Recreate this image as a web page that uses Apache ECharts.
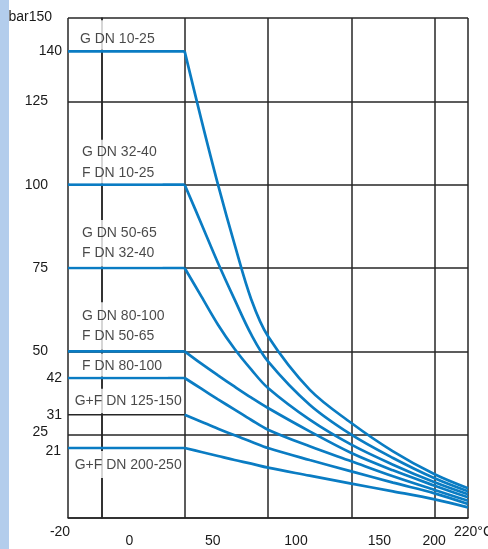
<!DOCTYPE html>
<html><head><meta charset="utf-8">
<script src="https://cdn.jsdelivr.net/npm/echarts@6/dist/echarts.min.js"></script>
<style>html,body{margin:0;padding:0;background:#fff}#c{width:488px;height:549px}</style>
</head><body><div id="c"></div>
<script>
// ---- data ----
const flatFrom = -20;
const temps = [50, 60, 70, 80, 90, 100, 125, 150, 175, 200, 220];
const p140 = [140, 119.5, 100, 82, 65.5, 54.5, 38.5, 28.5, 20, 13.1, 8.9];
const p100 = [100, 88.3, 76.5, 65.5, 55, 47, 34, 25, 18, 11.9, 8.0];
const p75  = [75, 66.5, 58, 50.7, 44.5, 39, 29.5, 22, 16, 10.7, 7.1];
const p50  = [50, 46.3, 42.8, 39.4, 36.1, 33, 26, 19.5, 14.3, 9.7, 6.2];
const p42  = [42, 38.8, 35.6, 32.5, 29.4, 26.5, 21.5, 17, 12.5, 8.4, 5.2];
const p31  = [31, 28.9, 26.8, 24.8, 22.9, 21, 17.4, 14, 10.6, 7.4, 4.2];
const p21  = [21, 19.8, 18.6, 17.4, 16.3, 15.1, 12.7, 10.3, 8, 5.6, 3.2];
const curves = [p140, p100, p75, p50, p42, p31, p21];
const blueFlat = [true, true, true, true, true, false, true];

const xTickValues = [-20, 0, 50, 100, 150, 200, 220];
const yGridValues = [0, 25, 50, 75, 100, 125, 150];
const yLabelValues = [21, 25, 31, 42, 50, 75, 100, 125, 140, 150];
const yNearLabels = [21, 31, 42, 140];

const groupTexts = ['G DN 10-25', 'G DN 32-40\nF DN 10-25', 'G DN 50-65\nF DN 32-40',
  'G DN 80-100\nF DN 50-65', 'F DN 80-100', 'G+F DN 125-150', 'G+F DN 200-250'];
const groupLevels = [140, 100, 75, 50, 42, 31, 21];

// ---- styles ----
const FONT = "'Liberation Sans',Arial,sans-serif";
const FS = 14;
const BLUE = '#0a7cc3';
const GRID = '#262626';
const TXT = '#1a1a1a';
const labelStyle = [
  {pos: 'top', pad: [9.5, 6, 2, 10.3], lh: 18, d: 1.5},
  {pos: 'top', pad: [1.5, 6, 0, 12.3], lh: 21, d: 1.5},
  {pos: 'top', pad: [2.75, 6, 2.75, 12.3], lh: 20.5, d: 1.5},
  {pos: 'top', pad: [3.25, 6, 3.25, 12.3], lh: 20.5, d: 1.5},
  {pos: 'top', pad: [3.5, 6, 1.5, 12.3], lh: 18, d: 1.5},
  {pos: 'top', pad: [3, 0, 3.5, 5], lh: 18, d: 1.5},
  {pos: 'bottom', pad: [5, 0, 4, 5], lh: 18, d: 3}
];

const series = [];
curves.forEach((vals, i) => {
  series.push({
    type: 'line', silent: true, symbol: 'none', animation: false,
    lineStyle: blueFlat[i] ? {color: BLUE, width: 2.7} : {color: GRID, width: 1.5},
    data: [[flatFrom, vals[0]], [temps[0], vals[0]]], z: blueFlat[i] ? 3 : 2
  });
  series.push({
    type: 'line', silent: true, symbol: 'none', animation: false, smooth: 0.35,
    lineStyle: {color: BLUE, width: 2.7},
    data: temps.map((t, k) => [t, vals[k]]), z: 3
  });
});
series.push({
  type: 'scatter', symbolSize: 0, silent: true, animation: false, z: 5,
  data: groupTexts.map((t, i) => ({
    value: [-19, groupLevels[i]],
    label: {
      show: true, formatter: t, position: labelStyle[i].pos, distance: labelStyle[i].d,
      align: 'left', backgroundColor: '#fff', padding: labelStyle[i].pad,
      lineHeight: labelStyle[i].lh, fontSize: FS, fontFamily: FONT, color: TXT
    }
  }))
});

const rt = extra => Object.assign({fontSize: FS, fontFamily: FONT, color: TXT}, extra || {});

const chart = echarts.init(document.getElementById('c'), null, {renderer: 'canvas'});
chart.setOption({
  animation: false,
  backgroundColor: '#fff',
  graphic: [{type: 'rect', left: 0, top: 0, shape: {width: 9, height: 549}, style: {fill: '#b3cdec'}, silent: true}],
  grid: {left: 68, top: 18, right: 20, bottom: 31, containLabel: false, outerBoundsMode: 'none'},
  xAxis: {
    type: 'value', min: -20, max: 220,
    axisLine: {show: true, lineStyle: {color: GRID, width: 1.5}},
    axisTick: {show: false, customValues: xTickValues},
    splitLine: {show: true, lineStyle: {color: GRID, width: 1.5}},
    axisLabel: {
      customValues: xTickValues, margin: 7, fontSize: FS, fontFamily: FONT, color: TXT,
      formatter: v => {
        if (v === -20) return '{l|-20}';
        if (v === 220) return '{r|220°C}';
        if (v === 200) return '{d|200}';
        return '{s|' + v + '}';
      },
      rich: {
        l: rt({padding: [0, 16, 0, 0]}),
        r: rt({padding: [0, 0, 0, 11]}),
        d: rt({padding: [9, 1, 0, 0]}),
        s: rt({padding: [9, 0, 0, 56]})
      }
    }
  },
  yAxis: {
    type: 'value', min: 0, max: 150,
    axisLine: {show: true, lineStyle: {color: GRID, width: 1.5}},
    axisTick: {show: false, customValues: yGridValues},
    splitLine: {show: true, lineStyle: {color: GRID, width: 1.5}},
    axisLabel: {
      customValues: yLabelValues, margin: 6, fontSize: FS, fontFamily: FONT, color: TXT,
      formatter: v => {
        if (v === 150) return '{u|bar}{t|150}';
        if (v === 25) return '{g|25}';
        if (v === 21) return '{h|21}';
        if (yNearLabels.indexOf(v) >= 0) return '{n|' + v + '}';
        return '{f|' + v + '}';
      },
      rich: {
        u: rt({padding: [0, 0, 2, 0]}),
        t: rt({padding: [0, 10, 2, 0]}),
        f: rt({padding: [0, 14, 0, 0]}),
        g: rt({padding: [0, 14, 5, 0]}),
        h: rt({padding: [6, 1, 0, 0]}),
        n: rt()
      }
    }
  },
  series: series
});
</script>
</body></html>
